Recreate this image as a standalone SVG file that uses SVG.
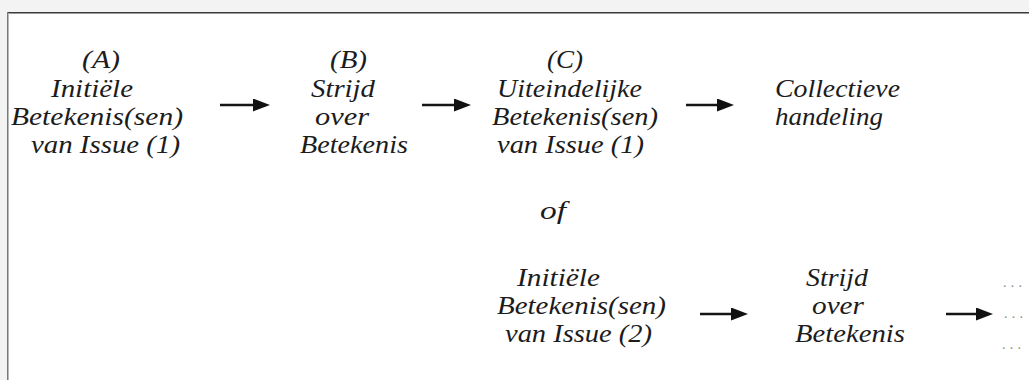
<svg xmlns="http://www.w3.org/2000/svg" width="1029" height="380" viewBox="0 0 1029 380">
  <defs>
    <style>
      .t { font-size: 25px; fill: #1c1c1c; }
      .dots { font-size: 14px; fill: #8a8a8a; }
      .arrow { stroke: #151515; stroke-width: 2.6; fill: none; marker-end: url(#head); }
    </style>
    <marker id="head" markerUnits="userSpaceOnUse" markerWidth="18" markerHeight="14" refX="9" refY="6.5" orient="auto">
      <path d="M0,0 L17,6.5 L0,13 Z" fill="#111"/>
    </marker>
  </defs>

  <!-- surrounding panel and frame -->
  <rect x="0" y="0" width="1029" height="380" fill="#f3f3f3"/>
  <rect x="8" y="13" width="1021" height="367" fill="#ffffff"/>
  <rect x="7" y="12" width="1022" height="1" fill="#3c3c3c"/>
  <rect x="7" y="13" width="1022" height="1" fill="#9a9a9a"/>
  <rect x="7" y="12" width="1" height="368" fill="#7a7a7a"/>
  <rect x="8" y="13" width="1" height="367" fill="#b8b8b8"/>

  <g id="node-a" font-family="Liberation Serif" font-style="italic">
    <text class="t" x="82" y="68" textLength="38" lengthAdjust="spacingAndGlyphs">(A)</text>
    <text class="t" x="51" y="97" textLength="82" lengthAdjust="spacingAndGlyphs">Initiële</text>
    <text class="t" x="11" y="125" textLength="172" lengthAdjust="spacingAndGlyphs">Betekenis(sen)</text>
    <text class="t" x="31" y="153" textLength="149" lengthAdjust="spacingAndGlyphs">van Issue (1)</text>
  </g>

  <g id="node-b" font-family="Liberation Serif" font-style="italic">
    <text class="t" x="330" y="68" textLength="37" lengthAdjust="spacingAndGlyphs">(B)</text>
    <text class="t" x="311" y="97" textLength="64" lengthAdjust="spacingAndGlyphs">Strijd</text>
    <text class="t" x="315" y="125" textLength="54" lengthAdjust="spacingAndGlyphs">over</text>
    <text class="t" x="300" y="153" textLength="108" lengthAdjust="spacingAndGlyphs">Betekenis</text>
  </g>

  <g id="node-c" font-family="Liberation Serif" font-style="italic">
    <text class="t" x="547" y="68" textLength="36" lengthAdjust="spacingAndGlyphs">(C)</text>
    <text class="t" x="497" y="97" textLength="145" lengthAdjust="spacingAndGlyphs">Uiteindelijke</text>
    <text class="t" x="492" y="125" textLength="166" lengthAdjust="spacingAndGlyphs">Betekenis(sen)</text>
    <text class="t" x="497" y="153" textLength="147" lengthAdjust="spacingAndGlyphs">van Issue (1)</text>
  </g>

  <g id="node-collectieve" font-family="Liberation Serif" font-style="italic">
    <text class="t" x="775" y="97" textLength="125" lengthAdjust="spacingAndGlyphs">Collectieve</text>
    <text class="t" x="775" y="125" textLength="108" lengthAdjust="spacingAndGlyphs">handeling</text>
  </g>

  <g id="label-of" font-family="Liberation Serif" font-style="italic">
    <text class="t" x="540" y="219" textLength="26" lengthAdjust="spacingAndGlyphs">of</text>
  </g>

  <g id="node-a2" font-family="Liberation Serif" font-style="italic">
    <text class="t" x="517" y="286" textLength="83" lengthAdjust="spacingAndGlyphs">Initiële</text>
    <text class="t" x="497" y="314" textLength="169" lengthAdjust="spacingAndGlyphs">Betekenis(sen)</text>
    <text class="t" x="505" y="342" textLength="147" lengthAdjust="spacingAndGlyphs">van Issue (2)</text>
  </g>

  <g id="node-b2" font-family="Liberation Serif" font-style="italic">
    <text class="t" x="806" y="286" textLength="62" lengthAdjust="spacingAndGlyphs">Strijd</text>
    <text class="t" x="812" y="314" textLength="52" lengthAdjust="spacingAndGlyphs">over</text>
    <text class="t" x="795" y="342" textLength="110" lengthAdjust="spacingAndGlyphs">Betekenis</text>
  </g>

  <g id="node-more" font-family="Liberation Serif">
    <text class="dots" x="1003" y="287" textLength="19" lengthAdjust="spacing">...</text>
    <text class="dots" x="1004" y="318" textLength="19" lengthAdjust="spacing">...</text>
    <text class="dots" x="1002" y="349" textLength="19" lengthAdjust="spacing">...</text>
  </g>

  <g id="connectors">
    <line class="arrow" x1="220" y1="105" x2="262" y2="105"/>
    <line class="arrow" x1="422" y1="105" x2="463" y2="105"/>
    <line class="arrow" x1="686" y1="105" x2="726" y2="105"/>
    <line class="arrow" x1="700" y1="314" x2="740" y2="314"/>
    <line class="arrow" x1="946" y1="314" x2="985" y2="314"/>
  </g>
</svg>
